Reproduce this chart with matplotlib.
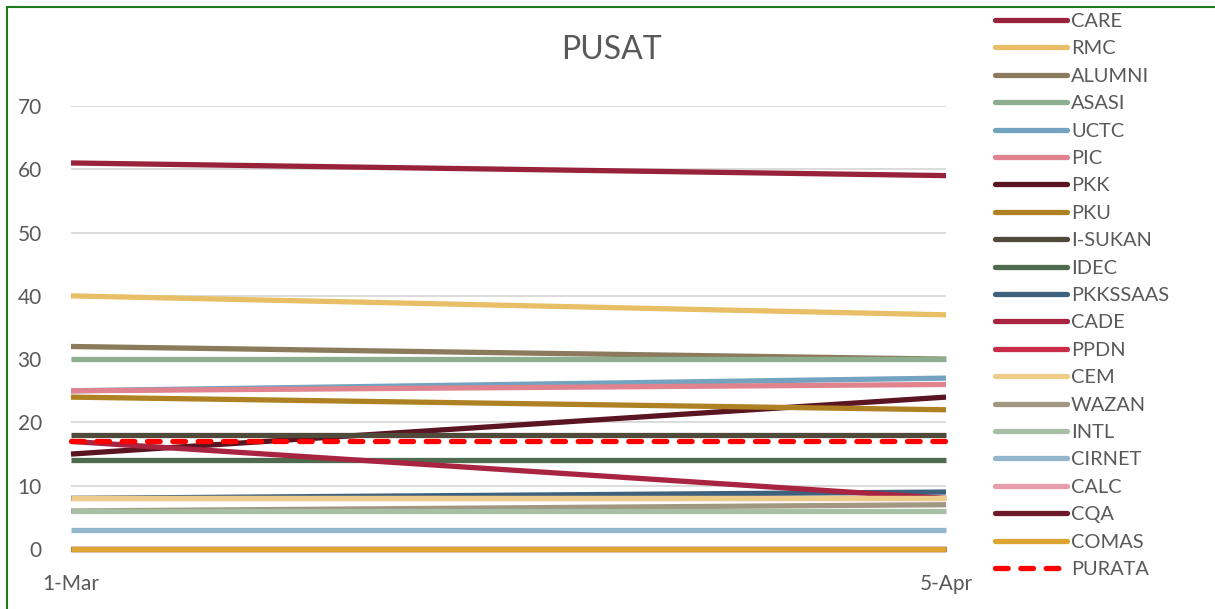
import matplotlib.pyplot as plt
from matplotlib.patches import Rectangle

# Data
dates = ["1-Mar", "5-Apr"]
names = ["CARE", "RMC", "ALUMNI", "ASASI", "UCTC", "PIC", "PKK", "PKU", "I-SUKAN", "IDEC",
         "PKKSSAAS", "CADE", "PPDN", "CEM", "WAZAN", "INTL", "CIRNET", "CALC", "CQA", "COMAS",
         "PURATA"]
care = [61, 59]
rmc = [40, 37]
alumni = [32, 30]
asasi = [30, 30]
uctc = [25, 27]
pic = [25, 26]
pkk = [15, 24]
pku = [24, 22]
isukan = [18, 18]
idec = [14, 14]
pkkssaas = [8, 9]
cade = [17, 8]
ppdn = [0, 0]
cem = [8, 8]
wazan = [6, 7]
intl = [6, 6]
cirnet = [3, 3]
calc = [8, 8]
cqa = [0, 0]
comas = [0, 0]
purata = [17, 17]

series = [care, rmc, alumni, asasi, uctc, pic, pkk, pku, isukan, idec, pkkssaas, cade,
          ppdn, cem, wazan, intl, cirnet, calc, cqa, comas, purata]
colors = ["#97223A", "#E8BF67", "#8B7A5C", "#8DAE8F", "#73A3BF", "#E0838F", "#5A1422",
          "#AE8122", "#4F4A3A", "#4E6B4E", "#3E627E", "#A82440", "#C82C48", "#EECD8A",
          "#A29780", "#A6BFA5", "#94B6CD", "#E89EAA", "#6E1A2A", "#DCA431", "#FF0000"]

plt.rcParams['font.family'] = ['Lato', 'DejaVu Sans']
txt = "#595959"

fig = plt.figure(figsize=(12.15, 6.09), dpi=100)
W, H = 1215, 609
ax = fig.add_axes([71 / W, 1 - 549 / H, (946 - 71) / W, (549 - 106) / H])

x = [0, 1]
handles = []
for i, (name, vals, c) in enumerate(zip(names, series, colors)):
    z = 2 + i * 0.01
    if name == "CALC":
        z = 2 + 12.5 * 0.01  # sits under CEM
    if name == "PURATA":
        ln, = ax.plot(x, vals, color=c, lw=3.8, dashes=(2.4, 2.4),
                      dash_capstyle='round', label=name, zorder=3, clip_on=False)
    else:
        ln, = ax.plot(x, vals, color=c, lw=3.8, solid_capstyle='butt', label=name,
                      zorder=z, clip_on=False)
    handles.append(ln)

ax.set_xlim(0, 1)
ax.set_ylim(0, 70)
ax.set_yticks(range(0, 71, 10))
ax.set_xticks(x)
ax.set_xticklabels(dates)
ax.tick_params(length=0, labelsize=15, colors=txt)
ax.tick_params(axis='y', pad=21)
ax.tick_params(axis='x', pad=18)
ax.grid(axis='y', color="#D9D9D9", lw=1.3, zorder=0)
for s in ax.spines.values():
    s.set_visible(False)

fig.text(612 / W, 1 - 50 / H, "PUSAT", ha='center', va='center', fontsize=23, color=txt)

leg = fig.legend(handles=handles, loc='upper left', bbox_to_anchor=(979 / W, 1 + 3 / H),
                 frameon=False, fontsize=14.4, labelcolor=txt, handlelength=3.6,
                 handletextpad=0.2, labelspacing=0.52, borderpad=0.3)
for h in leg.get_lines():
    h.set_linewidth(3.8)
    h.set_solid_capstyle('round')

# green frame (left and top edges visible)
fig.patches.append(Rectangle((7 / W, -0.1), 1.2, 1 - 7 / H + 0.1, transform=fig.transFigure,
                             fill=False, edgecolor="#1E7B1E", lw=1.5))

fig.savefig("out.png", dpi=100)
